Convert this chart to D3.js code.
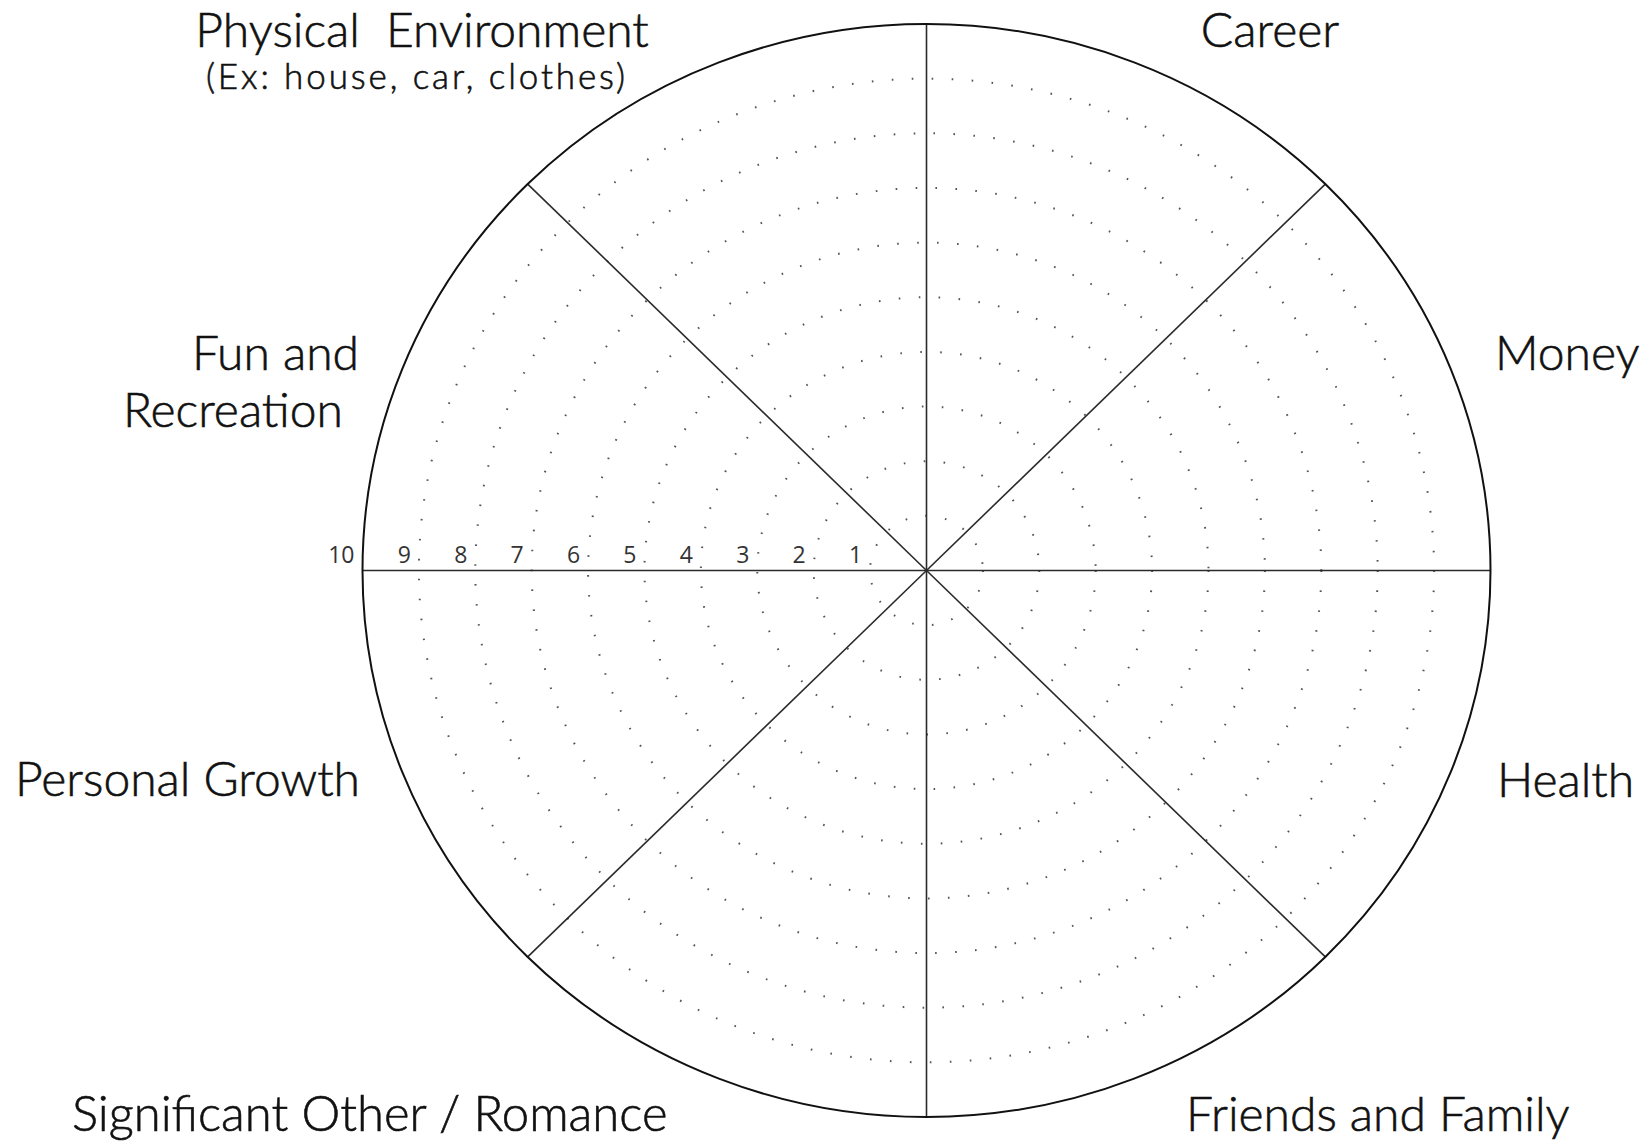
<!DOCTYPE html>
<html>
<head>
<meta charset="utf-8">
<script src="https://cdn.jsdelivr.net/npm/d3@7"></script>
<style>
  body { margin: 0; background: #fff; }
  svg { display: block; }
  .cat { font-family: Lato, "Open Sans", sans-serif; font-weight: 300; fill: #111; stroke: #111; stroke-width: 0.6; white-space: pre; }
  .ring-label { font-family: "Open Sans", sans-serif; fill: #333; }
</style>
</head>
<body>
<svg></svg>
<script>
// rating rings, 1 (inner) to 10 (outer rim)
let ringValues = [1, 2, 3, 4, 5, 6, 7, 8, 9, 10]
let ringLabels = ["1", "2", "3", "4", "5", "6", "7", "8", "9", "10"]

// life areas, clockwise from 12 o'clock
let categories = ["Career", "Money", "Health", "Friends and Family",
  "Significant Other / Romance", "Personal Growth", "Fun and Recreation", "Physical Environment"]

// how each area's caption is broken and set around the wheel
let captionLines = {
  "Career": ["Career"],
  "Money": ["Money"],
  "Health": ["Health"],
  "Friends and Family": ["Friends and Family"],
  "Significant Other / Romance": ["Significant Other / Romance"],
  "Personal Growth": ["Personal Growth"],
  "Fun and Recreation": ["Fun and", "Recreation"],
  "Physical Environment": ["Physical  Environment", "(Ex: house, car, clothes)"]
}

const width = 1645, height = 1143
const cx = 926.5, cy = 570.5

var svg = d3.select("svg").attr("width", width).attr("height", height)

// the wheel is a touch wider than tall, so x and y get their own radius
var rx = d3.scaleLinear().domain([0, 10]).range([0, 564])
var ry = d3.scaleLinear().domain([0, 10]).range([0, 546.5])
var angle = d3.scaleLinear().domain([0, categories.length]).range([0, 2 * Math.PI])

var g = svg.append("g").attr("transform", `translate(${cx},${cy})`)

// dotted rings
g.append("g")
  .selectAll("ellipse")
  .data(ringValues.filter(v => v < 10))
  .enter()
  .append("ellipse")
  .attr("rx", v => rx(v))
  .attr("ry", v => ry(v))
  .attr("fill", "none")
  .attr("stroke", "#555")
  .attr("stroke-width", 2)
  .attr("stroke-dasharray", "1.6 18.4")

// spokes between the areas
g.append("g")
  .selectAll("line")
  .data(categories)
  .enter()
  .append("line")
  .attr("x1", 0)
  .attr("y1", 0)
  .attr("x2", (d, i) => rx(10) * Math.sin(angle(i)))
  .attr("y2", (d, i) => -ry(10) * Math.cos(angle(i)))
  .attr("stroke", "#2a2a2a")
  .attr("stroke-width", 1.6)

// outer rim
g.append("ellipse")
  .attr("rx", rx(10))
  .attr("ry", ry(10))
  .attr("fill", "none")
  .attr("stroke", "#111")
  .attr("stroke-width", 2)

// scale numbers along the left horizontal spoke
g.append("g")
  .selectAll("text")
  .data(ringValues)
  .enter()
  .append("text")
  .attr("class", "ring-label")
  .attr("x", v => -rx(v) - 8)
  .attr("y", -8)
  .attr("text-anchor", "end")
  .attr("font-size", 23)
  .text((v, i) => ringLabels[i])

// caption placement (page coordinates): anchor, x, first baseline, line gap
let captionPlace = {
  "Career": { anchor: "middle", x: 1270, y: 47 },
  "Money": { anchor: "start", x: 1495, y: 370 },
  "Health": { anchor: "start", x: 1497, y: 797 },
  "Friends and Family": { anchor: "start", x: 1186, y: 1131 },
  "Significant Other / Romance": { anchor: "start", x: 72, y: 1131 },
  "Personal Growth": { anchor: "start", x: 15, y: 796 },
  "Fun and Recreation": { anchor: "end", x: [359, 343], y: 370, gap: 57 },
  "Physical Environment": { anchor: "middle", x: [422, 417], y: 47, gap: 42 }
}

categories.forEach(cat => {
  let p = captionPlace[cat]
  let lines = captionLines[cat]
  lines.forEach((line, j) => {
    let sub = cat === "Physical Environment" && j === 1
    svg.append("text")
      .attr("class", "cat")
      .attr("x", Array.isArray(p.x) ? p.x[j] : p.x)
      .attr("y", p.y + j * (p.gap || 0))
      .attr("text-anchor", p.anchor)
      .attr("font-size", sub ? 35 : (cat.length > 20 && lines.length === 1 ? 49 : 48))
      .attr("letter-spacing", sub ? 2.9 : 0)
      .attr("stroke-width", sub ? 0.8 : null)
      .text(line)
  })
})
</script>
</body>
</html>
